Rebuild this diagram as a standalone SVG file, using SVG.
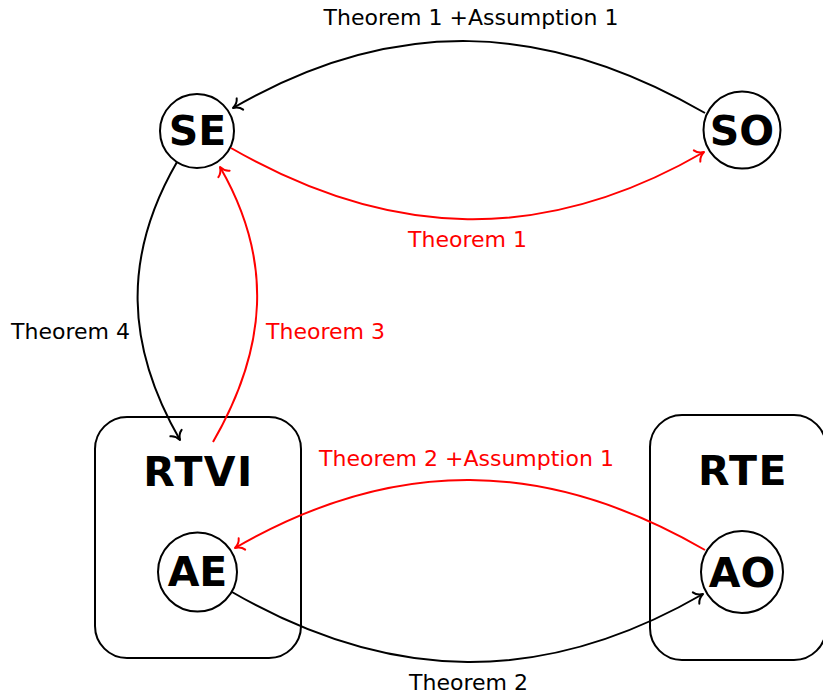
<svg xmlns="http://www.w3.org/2000/svg" width="823" height="700" viewBox="0 0 823 700">
<style>
.node{fill:#fff;stroke:#000;stroke-width:2}
.box{fill:none;stroke:#000;stroke-width:2}
.nt{font-family:"DejaVu Sans",sans-serif;font-weight:bold;font-size:41px;text-anchor:middle;fill:#000}
.lbl{font-family:"DejaVu Sans",sans-serif;font-size:22px;text-anchor:middle}
.blk{fill:#000}
.red{fill:#ff0000}
.e{fill:none;stroke-width:2}
.eb{stroke:#000;marker-end:url(#ab)}
.er{stroke:#ff0000;marker-end:url(#ar)}
</style>
<defs>
<marker id="ab" markerUnits="userSpaceOnUse" markerWidth="20" markerHeight="20" viewBox="-10 -10 20 20" refX="0" refY="0" orient="auto" overflow="visible">
<path d="M-8,-6.5 C-6.5,-3 -2.5,-0.8 0,0 C-2.5,0.8 -6.5,3 -8,6.5" fill="none" stroke="#000" stroke-width="2" stroke-linecap="round" stroke-linejoin="round"/>
</marker>
<marker id="ar" markerUnits="userSpaceOnUse" markerWidth="20" markerHeight="20" viewBox="-10 -10 20 20" refX="0" refY="0" orient="auto" overflow="visible">
<path d="M-8,-6.5 C-6.5,-3 -2.5,-0.8 0,0 C-2.5,0.8 -6.5,3 -8,6.5" fill="none" stroke="#ff0000" stroke-width="2" stroke-linecap="round" stroke-linejoin="round"/>
</marker>
</defs>
<g id="RTVI">
<rect class="box" x="95" y="417" width="206" height="241" rx="32" ry="32"/>
<text class="nt" x="198.5" y="486" letter-spacing="1.5">RTVI</text>
</g>
<g id="RTE">
<rect class="box" x="650" y="415" width="176" height="245" rx="32" ry="32"/>
<text class="nt" x="743" y="485" letter-spacing="1.5">RTE</text>
</g>
<g id="SE">
<circle class="node" cx="197" cy="131" r="37"/>
<text class="nt" x="197.5" y="145">SE</text>
</g>
<g id="SO">
<circle class="node" cx="742" cy="130" r="38.5"/>
<text class="nt" x="742" y="145">SO</text>
</g>
<g id="AE">
<circle class="node" cx="197.5" cy="572" r="39.5"/>
<text class="nt" x="197.5" y="586">AE</text>
</g>
<g id="AO">
<circle class="node" cx="742" cy="572" r="41"/>
<text class="nt" x="742" y="587">AO</text>
</g>
<g id="connectors">
<path class="e eb" d="M705,113 C545,20.5 393,15.5 233,108"/>
<path class="e er" d="M231,148 C391,240 544,244.5 704,152"/>
<path class="e eb" d="M177,162 C122.5,256 125.5,345.6 180,440"/>
<path class="e er" d="M213,442 C267,348.5 274,260.5 220,167"/>
<path class="e er" d="M705,550 C546,458 394,456 235,548"/>
<path class="e eb" d="M232,592 C391,684 544,686 703,594"/>
<text class="lbl blk" x="471" y="25">Theorem 1 +Assumption 1</text>
<text class="lbl red" x="467.5" y="247">Theorem 1</text>
<text class="lbl blk" x="70.5" y="339">Theorem 4</text>
<text class="lbl red" x="325.5" y="339">Theorem 3</text>
<text class="lbl red" x="466.5" y="466">Theorem 2 +Assumption 1</text>
<text class="lbl blk" x="468.5" y="690">Theorem 2</text>
</g>
</svg>
